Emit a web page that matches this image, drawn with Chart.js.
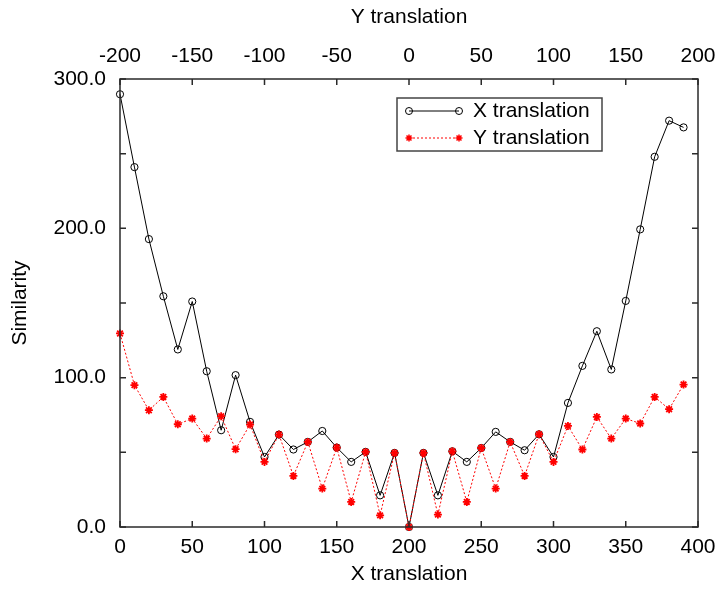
<!DOCTYPE html>
<html>
<head>
<meta charset="utf-8">
<script src="https://cdn.jsdelivr.net/npm/chart.js@4.4.1/dist/chart.umd.min.js"></script>
<style>
  html, body { margin: 0; padding: 0; background: #ffffff; }
  #chart { display: block; }
</style>
</head>
<body>
<canvas id="chart" width="722" height="590"></canvas>
<script>
// Data
const translation = [0, 10, 20, 30, 40, 50, 60, 70, 80, 90, 100, 110, 120, 130, 140, 150, 160, 170, 180, 190,
                     200, 210, 220, 230, 240, 250, 260, 270, 280, 290, 300, 310, 320, 330, 340, 350, 360, 370, 380, 390];
const xTranslation = [289.8, 241, 192.8, 154.5, 118.9, 151, 104.3, 64.8, 101.7, 70.4,
                      46.9, 61.9, 51.9, 57, 64.3, 53.2, 43.6, 50.3, 21.2, 49.6,
                      0, 49.6, 21.2, 50.7, 43.6, 52.9, 63.7, 57, 51.4, 62.1,
                      46.9, 83.1, 107.9, 131.1, 105.5, 151.4, 199.3, 247.9, 272.1, 267.6];
const yTranslation = [129.6, 95, 78.2, 87.1, 68.8, 72.6, 59.2, 74.2, 52.1, 68.6,
                      43.6, 61.9, 34.2, 57, 25.7, 53.2, 16.8, 50.3, 7.8, 49.6,
                      0, 49.6, 8.3, 50.7, 16.8, 52.9, 25.7, 57, 34.2, 62.1,
                      43.6, 67.7, 51.9, 73.7, 59.2, 72.6, 69.3, 87.1, 78.9, 95.4];
const bottomTicks = [0, 50, 100, 150, 200, 250, 300, 350, 400];
const topTicks = [-200, -150, -100, -50, 0, 50, 100, 150, 200];
const leftTicks = [0, 50, 100, 150, 200, 250, 300];
const seriesNames = ['X translation', 'Y translation'];

const FONT = "'Liberation Sans', Arial, Helvetica, sans-serif";
Chart.defaults.font.family = FONT;
Chart.defaults.font.size = 21;
Chart.defaults.color = '#000000';

function toPoints(values) {
    return translation.map((t, i) => ({ x: t, y: values[i] }));
}

function fixBox(size, horizontal) {
    return function(scale) {
        if (horizontal) scale.height = size; else scale.width = size;
        scale.paddingLeft = 0;
        scale.paddingRight = 0;
        scale.paddingTop = 0;
        scale.paddingBottom = 0;
    };
}

function drawStar(ctx, x, y, r) {
    ctx.beginPath();
    ctx.moveTo(x - r, y); ctx.lineTo(x + r, y);
    ctx.moveTo(x, y - r); ctx.lineTo(x, y + r);
    const d = r * Math.SQRT1_2;
    ctx.moveTo(x - d, y - d); ctx.lineTo(x + d, y + d);
    ctx.moveTo(x - d, y + d); ctx.lineTo(x + d, y - d);
    ctx.stroke();
}

// Frame, inward tick marks and boxed legend
const framePlugin = {
    id: 'frame',
    afterDraw(chart) {
        const ctx = chart.ctx;
        const area = chart.chartArea;
        const xs = chart.scales.x, xt = chart.scales.x2, ys = chart.scales.y;
        const len = 6;
        ctx.save();
        ctx.strokeStyle = '#2a2a2a';
        ctx.lineWidth = 1.5;
        ctx.strokeRect(area.left, area.top, area.right - area.left, area.bottom - area.top);
        ctx.beginPath();
        bottomTicks.forEach(v => {
            const px = xs.getPixelForValue(v);
            ctx.moveTo(px, area.bottom); ctx.lineTo(px, area.bottom - len);
        });
        topTicks.forEach(v => {
            const px = xt.getPixelForValue(v);
            ctx.moveTo(px, area.top); ctx.lineTo(px, area.top + len);
        });
        leftTicks.forEach(v => {
            const py = ys.getPixelForValue(v);
            ctx.moveTo(area.left, py); ctx.lineTo(area.left + len, py);
            ctx.moveTo(area.right, py); ctx.lineTo(area.right - len, py);
        });
        ctx.stroke();

        // legend
        const lx = 397, ly = 98, lw = 205, lh = 53;
        ctx.fillStyle = '#ffffff';
        ctx.fillRect(lx, ly, lw, lh);
        ctx.strokeStyle = '#444444';
        ctx.lineWidth = 1.5;
        ctx.strokeRect(lx, ly, lw, lh);

        const rows = [ly + 13, ly + 40];
        const x1 = 409, x2 = 459;
        // X translation sample
        ctx.strokeStyle = '#000000';
        ctx.lineWidth = 1;
        ctx.beginPath();
        ctx.moveTo(x1, rows[0]); ctx.lineTo(x2, rows[0]);
        ctx.stroke();
        [x1, x2].forEach(px => {
            ctx.beginPath();
            ctx.arc(px, rows[0], 3.5, 0, Math.PI * 2);
            ctx.stroke();
        });
        // Y translation sample
        ctx.strokeStyle = '#ff0000';
        ctx.setLineDash([2, 2]);
        ctx.beginPath();
        ctx.moveTo(x1, rows[1]); ctx.lineTo(x2, rows[1]);
        ctx.stroke();
        ctx.setLineDash([]);
        ctx.lineWidth = 1.5;
        [x1, x2].forEach(px => drawStar(ctx, px, rows[1], 3.5));

        ctx.fillStyle = '#000000';
        ctx.font = '21px ' + FONT;
        ctx.textAlign = 'left';
        ctx.textBaseline = 'middle';
        ctx.fillText(seriesNames[0], 473, rows[0]);
        ctx.fillText(seriesNames[1], 473, rows[1]);
        ctx.restore();
    }
};

new Chart(document.getElementById('chart'), {
    type: 'line',
    data: {
        datasets: [{
            label: seriesNames[0],
            data: toPoints(xTranslation),
            borderColor: '#000000',
            borderWidth: 1,
            pointStyle: 'circle',
            pointRadius: 3.6,
            pointBorderWidth: 1,
            pointBorderColor: '#000000',
            pointBackgroundColor: 'rgba(0,0,0,0)',
            tension: 0,
            clip: false,
            order: 1
        }, {
            label: seriesNames[1],
            data: toPoints(yTranslation),
            borderColor: '#ff0000',
            borderWidth: 1,
            borderDash: [2, 2],
            pointStyle: 'star',
            pointRadius: 4,
            pointBorderWidth: 1.8,
            pointBorderColor: '#ff0000',
            pointBackgroundColor: '#ff0000',
            tension: 0,
            clip: false,
            order: 0
        }]
    },
    options: {
        responsive: false,
        animation: false,
        events: [],
        layout: { padding: { left: 0, right: 24, top: 0, bottom: 0 } },
        plugins: {
            legend: { display: false },
            tooltip: { enabled: false }
        },
        scales: {
            x: {
                type: 'linear',
                position: 'bottom',
                min: 0,
                max: 400,
                afterFit: fixBox(63, true),
                afterBuildTicks: scale => { scale.ticks = bottomTicks.map(v => ({ value: v })); },
                grid: { display: false, drawTicks: false },
                border: { display: false },
                ticks: { padding: 7.5, maxRotation: 0, autoSkip: false, color: '#000000' },
                title: { display: true, text: 'X translation', color: '#000000', padding: { top: 0, bottom: 3.5 } }
            },
            x2: {
                type: 'linear',
                position: 'top',
                min: -200,
                max: 200,
                afterFit: fixBox(79, true),
                afterBuildTicks: scale => { scale.ticks = topTicks.map(v => ({ value: v })); },
                grid: { display: false, drawTicks: false },
                border: { display: false },
                ticks: { padding: 10, maxRotation: 0, autoSkip: false, color: '#000000' },
                title: { display: true, text: 'Y translation', color: '#000000', padding: { top: 5, bottom: 0 } }
            },
            y: {
                type: 'linear',
                position: 'left',
                min: 0,
                max: 300,
                afterFit: fixBox(120, false),
                afterBuildTicks: scale => { scale.ticks = leftTicks.filter(v => v % 100 === 0).map(v => ({ value: v })); },
                grid: { display: false, drawTicks: false },
                border: { display: false },
                ticks: { padding: 14, color: '#000000', callback: v => v.toFixed(1) },
                title: { display: true, text: 'Similarity', color: '#000000', padding: { top: 7.5, bottom: 0 } }
            }
        }
    },
    plugins: [framePlugin]
});
</script>
</body>
</html>
